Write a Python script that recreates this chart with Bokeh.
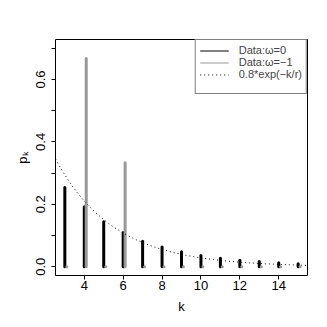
import numpy as np
from bokeh.plotting import figure
from bokeh.models import Range1d, FixedTicker, Legend, LegendItem, ColumnDataSource
from bokeh.embed import file_html
from bokeh.resources import INLINE

# ---- data ----
k_values = [3, 4, 5, 6, 7, 8, 9, 10, 11, 12, 13, 14, 15]
p_omega_0 = [0.254, 0.192, 0.144, 0.110, 0.082, 0.063, 0.048, 0.036, 0.027, 0.021, 0.017, 0.013, 0.010]
p_omega_minus1 = [0.0, 0.667, 0.0, 0.333, 0.0, 0.0, 0.0, 0.0, 0.0, 0.0, 0.0, 0.0, 0.0]
gray_shift = 0.1
curve_amp = 0.8
curve_r = 3.0
x_tick_values = [4, 6, 8, 10, 12, 14]
y_tick_values = [0.0, 0.1, 0.2, 0.3, 0.4, 0.5, 0.6, 0.7]
y_tick_labels = ["0.0", "", "0.2", "", "0.4", "", "0.6", ""]
legend_labels = ["Data:\u03c9=0", "Data:\u03c9=\u22121", "0.8*exp(\u2212k/r)"]
x_title = "k"
y_title = "p\u2096"

FONT = "Liberation Sans"
GRAY = "#999999"

# ---- layout (pixels) ----
W = H = 320
FL, FR, FT, FB = 55, 307, 39, 275       # frame edges on the canvas
x_lo, x_hi = 2.52, 15.48
y_lo, y_hi = -0.028, 0.728

p = figure(width=W, height=H, output_backend="svg", toolbar_location=None,
           x_range=Range1d(x_lo, x_hi), y_range=Range1d(y_lo, y_hi),
           min_border_left=FL, min_border_right=W - FR, min_border_top=FT, min_border_bottom=H - FB,
           background_fill_color="white", border_fill_color="white")
p.grid.visible = False
p.outline_line_color = "black"
p.outline_line_width = 1

# bars
src0 = ColumnDataSource(dict(x=k_values, y0=[0.0] * len(k_values), y1=p_omega_0))
src1 = ColumnDataSource(dict(x=[k + gray_shift for k in k_values], y0=[0.0] * len(k_values), y1=p_omega_minus1))
p.segment(x0="x", y0="y0", x1="x", y1="y1", source=src0, line_color="black", line_width=3, line_cap="round")
p.segment(x0="x", y0="y0", x1="x", y1="y1", source=src1, line_color=GRAY, line_width=3, line_cap="round")

# reference curve
cx = np.linspace(x_lo, x_hi, 200)
cy = curve_amp * np.exp(-cx / curve_r)
curve = p.line(cx, cy, line_color="black", line_width=1, line_dash="1 3")

# axes
for ax in (p.xaxis, p.yaxis):
    ax.axis_line_color = None
    ax.major_tick_out = 4
    ax.major_tick_in = 0
    ax.minor_tick_line_color = None
    ax.major_tick_line_color = "black"
    ax.major_label_text_font = FONT
    ax.major_label_text_font_size = "13px"
    ax.major_label_text_color = "black"
    ax.axis_label_text_font = FONT
    ax.axis_label_text_font_size = "13px"
    ax.axis_label_text_font_style = "normal"
    ax.axis_label_text_color = "black"
p.xaxis.ticker = FixedTicker(ticks=x_tick_values)
p.xaxis.major_label_standoff = 1
p.xaxis.axis_label = x_title
p.xaxis.axis_label_standoff = 6
p.yaxis.ticker = FixedTicker(ticks=y_tick_values)
p.yaxis.major_label_overrides = {v: s for v, s in zip(y_tick_values, y_tick_labels)}
p.yaxis.major_label_orientation = "vertical"
p.yaxis.major_label_standoff = 6
p.yaxis.axis_label = y_title
p.yaxis.axis_label_standoff = 4

# legend
r0 = p.line(x=k_values, y=p_omega_0, line_color="black", line_width=1, visible=False)
r1 = p.line(x=k_values, y=p_omega_minus1, line_color=GRAY, line_width=1, visible=False)
r3 = p.line(x=k_values, y=p_omega_0, line_alpha=0, visible=False)
legend = Legend(items=[LegendItem(label=legend_labels[0], renderers=[r0]),
                       LegendItem(label=legend_labels[1], renderers=[r1]),
                       LegendItem(label=legend_labels[2], renderers=[curve]),
                       LegendItem(label=" ", renderers=[r3])],
                location="top_right", margin=0, padding=4, spacing=0,
                glyph_width=29, glyph_height=9, label_height=9, label_width=60,
                label_standoff=10, label_text_font=FONT, label_text_font_size="11px",
                label_text_line_height=0.8,
                inactive_fill_alpha=0.0,
                border_line_color="black", border_line_width=1,
                background_fill_color="white", background_fill_alpha=1.0)
p.add_layout(legend)

open("out.html", "w").write(file_html(p, INLINE))
